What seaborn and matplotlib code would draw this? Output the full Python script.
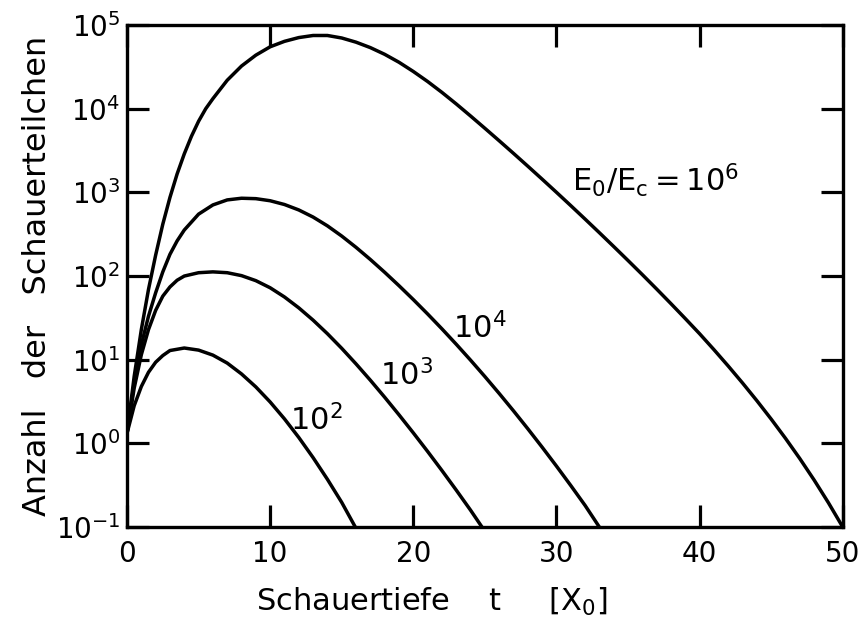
import numpy as np
import pandas as pd
import seaborn as sns
import matplotlib
matplotlib.use('Agg')
import matplotlib.pyplot as plt

# shower depth t [X0] and log10 of particle number
t_1e6 = [0, 0.5, 1, 1.5, 2, 2.5, 3, 3.5, 4, 4.5, 5, 5.5, 6, 7, 8, 9, 10, 11, 12, 13, 14, 15,
         16, 17, 18, 19, 20, 21, 22, 23, 24, 25, 26, 27, 28, 29, 30, 31, 32, 33, 34, 35, 36,
         37, 38, 39, 40, 41, 42, 43, 44, 45, 46, 47, 48, 49, 50]
logn_1e6 = [0.12, 0.80, 1.36, 1.84, 2.25, 2.62, 2.94, 3.22, 3.46, 3.67, 3.85, 4.00, 4.12,
            4.34, 4.51, 4.64, 4.74, 4.805, 4.85, 4.875, 4.875, 4.845, 4.795, 4.73, 4.65,
            4.555, 4.445, 4.325, 4.195, 4.057, 3.913, 3.766, 3.617, 3.466, 3.313, 3.158,
            3.001, 2.842, 2.681, 2.518, 2.353, 2.186, 2.017, 1.845, 1.670, 1.492, 1.311,
            1.121, 0.925, 0.722, 0.511, 0.291, 0.061, -0.181, -0.437, -0.709, -0.999]

t_1e4 = [0, 0.5, 1, 1.5, 2, 2.5, 3, 3.5, 4, 5, 6, 7, 8, 9, 10, 11, 12, 13, 14, 15, 16, 17,
         18, 19, 20, 21, 22, 23, 24, 25, 26, 27, 28, 29, 30, 31, 32, 33]
logn_1e4 = [0.12, 0.72, 1.18, 1.52, 1.80, 2.05, 2.26, 2.42, 2.55, 2.74, 2.85, 2.91, 2.93,
            2.925, 2.90, 2.855, 2.79, 2.705, 2.60, 2.478, 2.343, 2.198, 2.045, 1.885, 1.719,
            1.547, 1.369, 1.185, 0.995, 0.799, 0.597, 0.389, 0.175, -0.045, -0.271, -0.503,
            -0.741, -1.0]

t_1e3 = [0, 0.5, 1, 1.5, 2, 2.5, 3, 3.5, 4, 5, 6, 7, 8, 9, 10, 11, 12, 13, 14, 15, 16, 17,
         18, 19, 20, 21, 22, 23, 24, 24.8]
logn_1e3 = [0.12, 0.66, 1.06, 1.36, 1.59, 1.76, 1.87, 1.95, 2.0, 2.04, 2.05, 2.04, 2.005,
            1.945, 1.86, 1.75, 1.62, 1.473, 1.311, 1.136, 0.95, 0.755, 0.552, 0.342, 0.126,
            -0.096, -0.324, -0.558, -0.798, -1.0]

t_1e2 = [0, 0.5, 1, 1.5, 2, 2.5, 3, 4, 5, 6, 7, 8, 9, 10, 11, 12, 13, 14, 15, 15.95]
logn_1e2 = [0.12, 0.45, 0.68, 0.85, 0.97, 1.05, 1.11, 1.14, 1.115, 1.055, 0.96, 0.83, 0.675,
            0.495, 0.293, 0.071, -0.17, -0.429, -0.705, -1.0]

curve_labels = [r'$\mathregular{E_0/E_c = 10^6}$', r'$\mathregular{10^4}$',
                r'$\mathregular{10^3}$', r'$\mathregular{10^2}$']
label_pos = [(31.1, 10**3.15), (22.8, 10**1.38), (17.7, 10**0.81), (11.4, 10**0.28)]

frames = []
for name, t, ln in [('1e6', t_1e6, logn_1e6), ('1e4', t_1e4, logn_1e4),
                    ('1e3', t_1e3, logn_1e3), ('1e2', t_1e2, logn_1e2)]:
    frames.append(pd.DataFrame({'t': t, 'N': 10 ** np.array(ln), 'E': name}))
df = pd.concat(frames, ignore_index=True)

sns.set_theme(style='ticks')
plt.rcParams['font.family'] = ['DejaVu Sans']

fig = plt.figure(figsize=(8.67, 6.32), dpi=100)
ax = fig.add_axes([0.1465, 0.166, 0.8255, 0.7944])

for name in ['1e6', '1e4', '1e3', '1e2']:
    sub = df[df['E'] == name]
    sns.lineplot(data=sub, x='t', y='N', ax=ax, color='black', linewidth=2.5,
                 estimator=None, sort=False)

ax.set_yscale('log')
ax.set_xlim(0, 50)
ax.set_ylim(0.1, 1e5)
ax.set_xticks([0, 10, 20, 30, 40, 50])
ax.set_xticklabels(['0', '10', '20', '30', '40', '50'])
ax.set_yticks([1e-1, 1e0, 1e1, 1e2, 1e3, 1e4, 1e5])
ax.set_yticklabels([r'$\mathregular{10^{-1}}$', r'$\mathregular{10^{0}}$',
                    r'$\mathregular{10^{1}}$', r'$\mathregular{10^{2}}$',
                    r'$\mathregular{10^{3}}$', r'$\mathregular{10^{4}}$',
                    r'$\mathregular{10^{5}}$'])
ax.minorticks_off()
ax.tick_params(direction='in', length=16, width=2.3, top=True, right=True,
               labelsize=20, colors='black')
ax.tick_params(axis='x', pad=9)
ax.tick_params(axis='y', pad=5)
for sp in ax.spines.values():
    sp.set_linewidth(2.4)
    sp.set_color('black')

for lab, (x, y) in zip(curve_labels, label_pos):
    ax.text(x, y, lab, fontsize=22, ha='left', va='center', color='black')

ax.set_xlabel('Schauertiefe    t     [X$_0$]', fontsize=22, color='black')
ax.xaxis.set_label_coords(0.426, -0.118)
ax.set_ylabel('Anzahl   der   Schauerteilchen', fontsize=23, labelpad=2, color='black')

fig.savefig('out.png', dpi=100)
